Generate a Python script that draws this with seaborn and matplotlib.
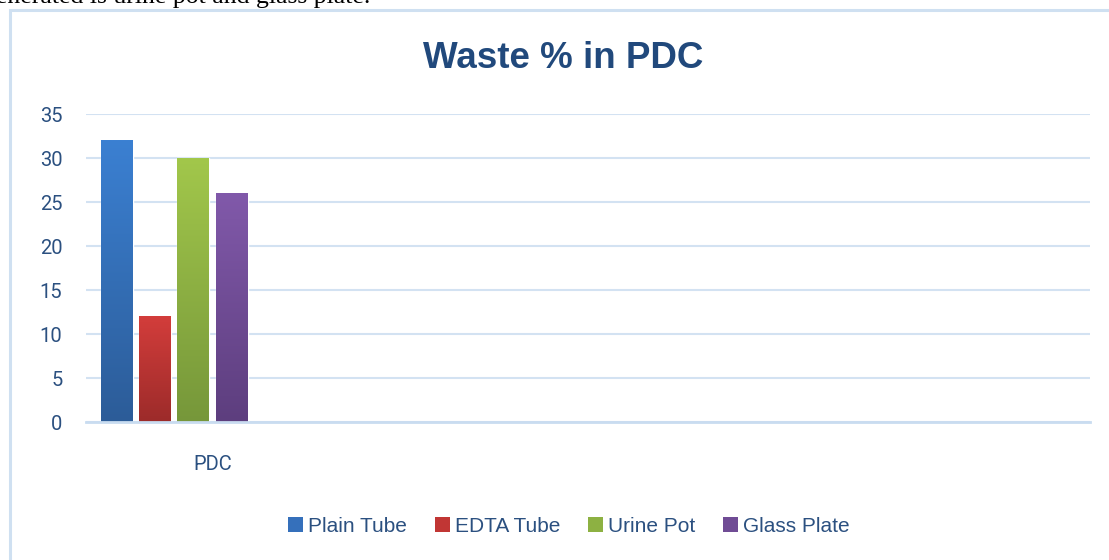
import matplotlib
matplotlib.use("Agg")
import numpy as np
import pandas as pd
import matplotlib.pyplot as plt
from matplotlib.patches import Rectangle, Patch
from matplotlib.colors import to_rgb
import seaborn as sns

# data
sites = ["PDC"]
waste_types = ["Plain Tube", "EDTA Tube", "Urine Pot", "Glass Plate"]
waste_pct = [32, 12, 30, 26]

# bar gradient colours (top -> bottom)
top_colors = ["#3b80d2", "#d33d3b", "#a2c74b", "#8159aa"]
bottom_colors = ["#2c5c98", "#9c2b2a", "#76973a", "#5d3e7e"]
mid_colors = ["#3570bb", "#c13634", "#8db142", "#704c95"]

df = pd.DataFrame({"Site": sites * len(waste_types),
                   "Type": waste_types,
                   "Waste": waste_pct})

sns.set_theme(style="white")
text_blue = "#2b5080"
sans = ["Liberation Sans", "DejaVu Sans"]

W, H = 1109, 560
fig = plt.figure(figsize=(W / 100, H / 100), dpi=100)
ax = fig.add_axes([86 / W, (H - 422) / H, (1090 - 86) / W, 308 / H])

sns.barplot(data=df, x="Site", y="Waste", hue="Type", hue_order=waste_types,
            palette=mid_colors, width=0.8, gap=0.17, legend=False, ax=ax,
            zorder=3)

# vertical gradient over each bar
for i, cont in enumerate(ax.containers):
    c_top = np.array(to_rgb(top_colors[i]))
    c_bot = np.array(to_rgb(bottom_colors[i]))
    t = np.linspace(0, 1, 256)[:, None, None]
    grad = c_bot + (c_top - c_bot) * t
    for bar in cont:
        x0, w, h = bar.get_x(), bar.get_width(), bar.get_height()
        ax.imshow(grad, extent=[x0, x0 + w, 0, h], origin="lower",
                  aspect="auto", zorder=4, interpolation="bilinear")

ax.set_xlim(-0.46, 4.78)
ax.set_ylim(0, 35)
ax.set_yticks(range(0, 36, 5))
ax.set_xticks([0.2])
ax.set_xticklabels(sites)
ax.set_xlabel("")
ax.set_ylabel("")

ax.yaxis.grid(True, color="#d3e2f2", lw=1.5, zorder=0)
ax.set_axisbelow(True)
for s in ["top", "right", "left"]:
    ax.spines[s].set_visible(False)
ax.spines["bottom"].set_color("#c9dcf0")
ax.spines["bottom"].set_linewidth(2)
ax.spines["bottom"].set_zorder(5)

ax.tick_params(axis="y", length=0, pad=17, labelsize=14.5, labelcolor=text_blue)
ax.tick_params(axis="x", length=0, pad=24, labelsize=14.5, labelcolor=text_blue)
for lab in ax.get_xticklabels() + ax.get_yticklabels():
    lab.set_family("Roboto")

# title
fig.text(563 / W, 1 - 68 / H, "Waste % in PDC", ha="center", va="baseline",
         fontsize=26.5, fontweight="bold", color="#21497c", family=sans)

# legend
handles = [Patch(facecolor=c, edgecolor="none") for c in mid_colors]
fig.legend(handles, waste_types, loc="center", ncol=4, frameon=False,
           bbox_to_anchor=(569 / W, (H - 526) / H),
           handlelength=0.7, handleheight=0.7, handletextpad=0.25,
           columnspacing=1.35, labelcolor=text_blue,
           prop={"family": sans, "size": 15})

# chart frame
fig.patches.append(Rectangle((10 / W, -0.1), 1.2, 1.1 - 10 / H,
                             transform=fig.transFigure, fill=False,
                             edgecolor="#cfe0f1", lw=2.2))

# cut-off line of document text above the chart
fig.text(370 / W, 1 - 3 / H, "generated is urine pot and glass plate.",
         ha="right", va="baseline", fontsize=18.5, color="black",
         family=["Liberation Serif", "DejaVu Serif"])

fig.savefig("out.png", dpi=100)
